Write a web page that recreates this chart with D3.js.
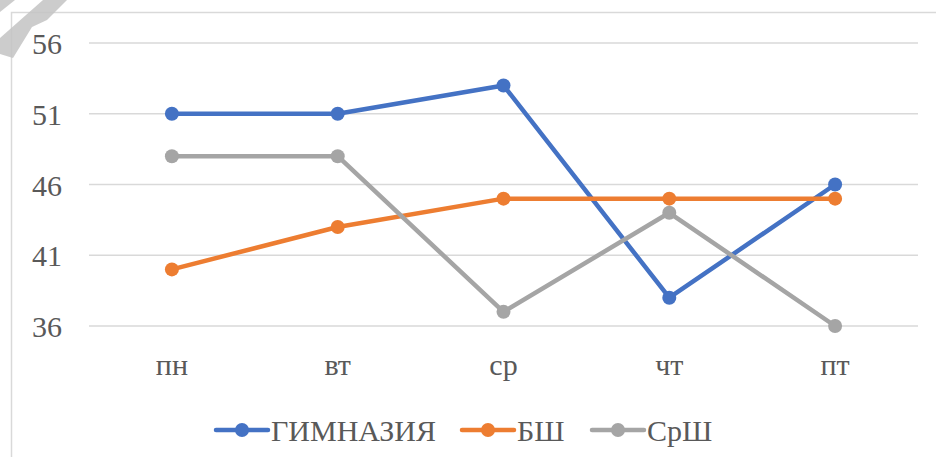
<!DOCTYPE html>
<html>
<head>
<meta charset="utf-8">
<script src="https://cdn.jsdelivr.net/npm/d3@7"></script>
<style>
  body { margin: 0; background: #fff; }
</style>
</head>
<body>
<script>
const days = ["пн", "вт", "ср", "чт", "пт"]
const gymnasium = [51, 51, 53, 38, 46]
const bsh = [40, 43, 45, 45, 45]
const srsh = [48, 48, 37, 44, 36]
const yTicks = [36, 41, 46, 51, 56]
const seriesNames = ["ГИМНАЗИЯ", "БШ", "СрШ"]
const seriesColors = ["#4472c4", "#ed7d31", "#a5a5a5"]

const width = 936
const height = 457

// build the chart on a detached svg, then write it into the page
const svg = d3.create('svg')
    .attr('width', width)
    .attr('height', height)

// outer chart border, only its top and left edges show
svg.append('rect')
    .attr('x', 11.5).attr('y', 12.5)
    .attr('width', 940).attr('height', 460)
    .attr('fill', 'none')
    .attr('stroke', '#d9d9d9')
    .attr('stroke-width', 1.5)

// faint watermark in the corner
const mark = svg.append('g').attr('fill', '#c4c4c4').attr('opacity', 0.85)
mark.append('path').attr('d', 'M0,0 L15,0 L0,12 Z')
mark.append('path').attr('d', 'M43,0 L67,0 L47,20 L32,27 L13,58 L0,54 L0,38 Z')

const xScale = d3.scaleBand().domain(days).range([89, 918])
const yScale = d3.scaleLinear().domain([36, 56]).range([326, 43])
const xPos = d => xScale(d) + xScale.bandwidth() / 2

svg.append('g').selectAll('line').data(yTicks)
    .enter()
    .append('line')
    .attr('x1', 89).attr('x2', 918)
    .attr('y1', d => yScale(d)).attr('y2', d => yScale(d))
    .attr('stroke', '#d9d9d9')
    .attr('stroke-width', 1.5)

const yAxis = d3.axisLeft(yScale).tickValues(yTicks).tickSize(0).tickPadding(0)
const yG = svg.append('g')
    .attr('transform', 'translate(62 0)')
    .call(yAxis)
yG.select('.domain').remove()
yG.attr('font-family', null).attr('font-size', null)
yG.selectAll('text').attr('dy', '0.35em')

const xAxis = d3.axisBottom(xScale).tickSize(0).tickPadding(0)
const xG = svg.append('g')
    .attr('transform', 'translate(0 352)')
    .call(xAxis)
xG.select('.domain').remove()
xG.attr('font-family', null).attr('font-size', null)
xG.selectAll('text').attr('dy', '0.78em')

const allSeries = [gymnasium, bsh, srsh]
const line = d3.line()
    .x((d, i) => xPos(days[i]))
    .y(d => yScale(d))

allSeries.forEach(function(values, s) {
    const g = svg.append('g')
    g.append('path')
        .datum(values)
        .attr('d', line)
        .attr('fill', 'none')
        .attr('stroke', seriesColors[s])
        .attr('stroke-width', 4.5)
        .attr('stroke-linejoin', 'round')
        .attr('stroke-linecap', 'round')
    g.selectAll('circle').data(values)
        .enter()
        .append('circle')
        .attr('cx', (d, i) => xPos(days[i]))
        .attr('cy', d => yScale(d))
        .attr('r', 7)
        .attr('fill', seriesColors[s])
})

// legend
const legendX = [216, 462, 592]
seriesNames.forEach(function(name, s) {
    const item = svg.append('g').attr('transform', 'translate(' + legendX[s] + ' 430)')
    item.append('line')
        .attr('x1', 0).attr('x2', 52)
        .attr('stroke', seriesColors[s])
        .attr('stroke-width', 4.5)
        .attr('stroke-linecap', 'round')
    item.append('circle')
        .attr('cx', 26).attr('r', 7)
        .attr('fill', seriesColors[s])
    item.append('text')
        .attr('x', 55)
        .attr('dy', '0.35em')
        .text(name)
})

svg.selectAll('text')
    .attr('font-size', 30)
    .attr('font-family', 'Liberation Serif')
    .attr('fill', '#595959')

document.write(svg.node().outerHTML)
</script>
</body>
</html>
